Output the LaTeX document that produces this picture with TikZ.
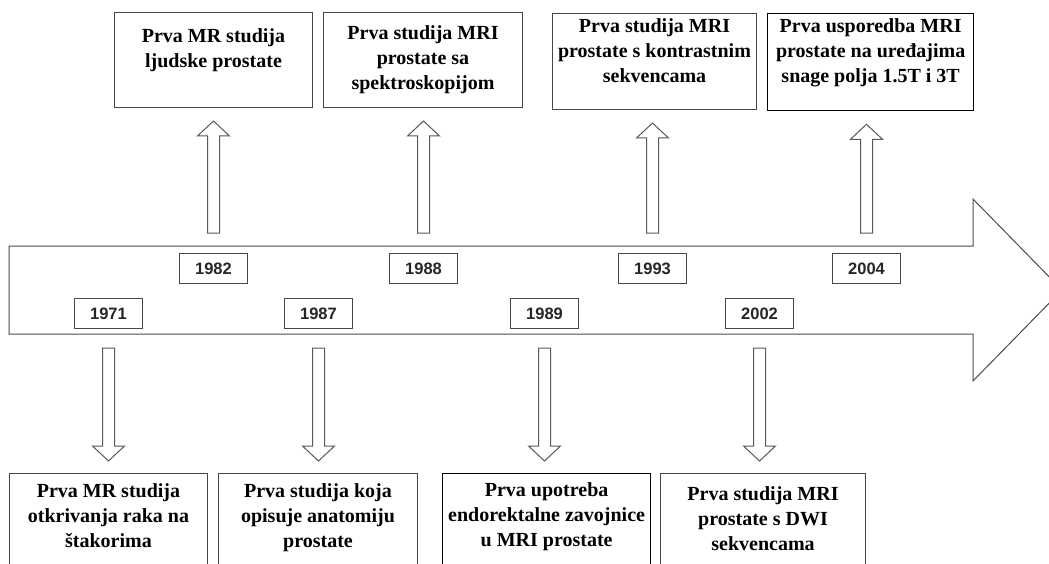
\documentclass[tikz,border=0pt]{standalone}
\usepackage{fontspec}
\setmainfont{Liberation Serif}
\setsansfont{Liberation Sans}
\usetikzlibrary{calc}
\newcommand{\evtext}[4]{\parbox[c][#2][t]{#1}{\centering\fontsize{20}{25}\selectfont\bfseries\rule{0pt}{#3}#4}}
\newcommand{\uparw}[2]{%
  \draw[blockarr] let \p1=(#1.north), \p2=(#2.south) in
   (\x1-6pt,\y1+20pt) -- (\x1-6pt,\y2-28pt) -- (\x1-16pt,\y2-28pt) -- (\x1,\y2-13pt)
   -- (\x1+16pt,\y2-28pt) -- (\x1+6pt,\y2-28pt) -- (\x1+6pt,\y1+20pt) -- cycle;}
\newcommand{\dnarw}[2]{%
  \draw[blockarr] let \p1=(#1.south), \p2=(#2.north) in
   (\x1-6pt,\y1-19pt) -- (\x1-6pt,\y2+27pt) -- (\x1-16pt,\y2+27pt) -- (\x1,\y2+12pt)
   -- (\x1+16pt,\y2+27pt) -- (\x1+6pt,\y2+27pt) -- (\x1+6pt,\y1-19pt) -- cycle;}
\tikzset{
  evbox/.style={draw=black!72, line width=1pt, inner sep=0pt, anchor=north west},
  evboxdark/.style={evbox, draw=black, line width=1.3pt},
  yrbox/.style={draw=black!72, line width=1pt, minimum width=68pt, minimum height=30pt,
    inner sep=0pt, anchor=north west, font=\fontsize{16.5}{18}\selectfont\sffamily\bfseries, text=black!85},
  blockarr/.style={draw=black!65, line width=1pt, fill=white, line join=miter},
  mainarr/.style={draw=black!70, line width=1pt, fill=white, line join=miter},
}
\begin{document}
\begin{tikzpicture}[x=1pt,y=-1pt]
\useasboundingbox (0,0) rectangle (1049,564);
\clip (0,0) rectangle (1049,564);
\fill[white] (0,0) rectangle (1049,564);

% main timeline arrow
\draw[mainarr] (9,246) -- (973,246) -- (973,199) -- (1062,290) -- (973,381)
  -- (973,334) -- (9,334) -- cycle;

% year boxes
\node[yrbox] (y1982) at (179,253) {1982};
\node[yrbox] (y1988) at (389,253) {1988};
\node[yrbox] (y1993) at (618,253) {1993};
\node[yrbox] (y2004) at (832,253) {2004};
\node[yrbox] (y1971) at (74,298) {1971};
\node[yrbox] (y1987) at (284,298) {1987};
\node[yrbox] (y1989) at (510,298) {1989};
\node[yrbox] (y2002) at (725,298) {2002};

% top event boxes
\node[evbox] (e1982) at (114,12) {\evtext{198pt}{95pt}{30pt}{Prva MR studija\\ ljudske prostate}};
\node[evbox] (e1988) at (323,12) {\evtext{199pt}{95pt}{27pt}{Prva studija MRI\\ prostate sa\\ spektroskopijom}};
\node[evbox] (e1993) at (552,13) {\evtext{204pt}{96pt}{19pt}{Prva studija MRI\\ prostate s kontrastnim\\ sekvencama}};
\node[evboxdark] (e2004) at (767,13) {\evtext{206pt}{97pt}{19pt}{Prva usporedba MRI\\ prostate na uređajima\\ snage polja 1.5T i 3T}};

% bottom event boxes
\node[evbox] (e1971) at (9,473) {\evtext{198pt}{110pt}{24pt}{Prva MR studija\\ otkrivanja raka na\\ štakorima}};
\node[evbox] (e1987) at (218,473) {\evtext{199pt}{110pt}{24pt}{Prva studija koja\\ opisuje anatomiju\\ prostate}};
\node[evboxdark] (e1989) at (442,473) {\evtext{208pt}{110pt}{23pt}{Prva upotreba\\ endorektalne zavojnice\\ u MRI prostate}};
\node[evbox] (e2002) at (660,473) {\evtext{205pt}{110pt}{27pt}{Prva studija MRI\\ prostate s DWI\\ sekvencama}};

% block arrows
\uparw{y1982}{e1982}
\uparw{y1988}{e1988}
\uparw{y1993}{e1993}
\uparw{y2004}{e2004}
\dnarw{y1971}{e1971}
\dnarw{y1987}{e1987}
\dnarw{y1989}{e1989}
\dnarw{y2002}{e2002}
\end{tikzpicture}
\end{document}
